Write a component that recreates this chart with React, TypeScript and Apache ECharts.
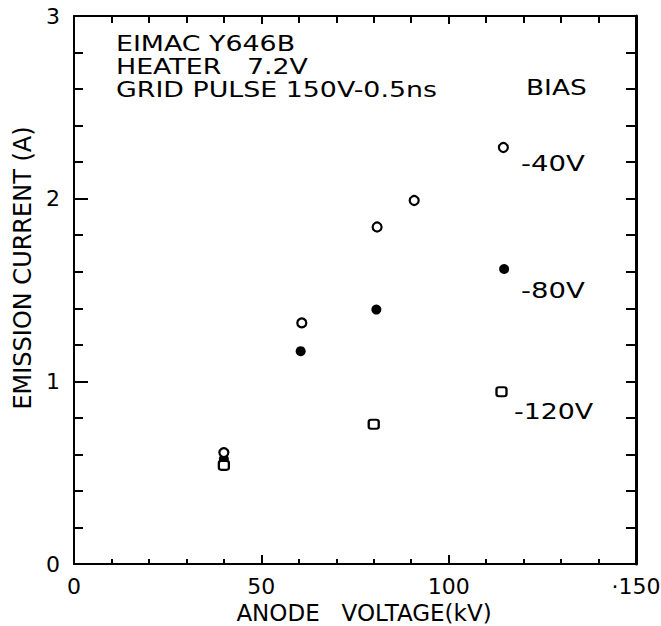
import React, { useEffect, useRef } from "react";
import * as echarts from "echarts";

const xTicks = [0, 50, 100, 150];
const xTickLabels = ["0", "50", "100", "·150"];
const yTickLabels = ["0", "1", "2", "3"];

const bias40: [number, number][] = [
  [40, 0.61],
  [60.8, 1.32],
  [80.9, 1.845],
  [90.8, 1.99],
  [114.6, 2.28],
];
const bias80: [number, number][] = [
  [40, 0.575],
  [60.5, 1.165],
  [80.7, 1.393],
  [114.8, 1.615],
];
const bias120: [number, number][] = [
  [40, 0.54],
  [80, 0.765],
  [114.1, 0.943],
];

const infoLines = ["EIMAC Y646B", "HEATER   7.2V", "GRID PULSE 150V-0.5ns"];
const biasTitle = "BIAS";
const biasLabels = ["-40V", "-80V", "-120V"];
const xName = "ANODE   VOLTAGE(kV)";
const yName = "EMISSION CURRENT (A)";

const FONT = "DejaVu Sans";

export default function App() {
  const ref = useRef<HTMLDivElement>(null);
  useEffect(() => {
    if (!ref.current) return;
    const chart = echarts.init(ref.current, null, { renderer: "svg" });
    const tickLine = { color: "#000", width: 2 };
    const axisLine = { show: true, onZero: false, lineStyle: { color: "#000", width: 2 } };
    const labelStyle = { color: "#000", fontFamily: FONT, fontSize: 22 };
    const txt = (text: string, x: number, y: number, sx = 1.22) => ({
      type: "text",
      x,
      y,
      scaleX: sx,
      style: {
        text,
        x: 0,
        y: 0,
        fill: "#000",
        font: `22px "${FONT}"`,
        textAlign: "left",
        textVerticalAlign: "middle",
      },
    });
    chart.setOption({
      animation: false,
      backgroundColor: "#fff",
      grid: {
        left: 74,
        right: 25,
        top: 16,
        bottom: 62,
        containLabel: false,
        outerBoundsMode: "none",
      },
      xAxis: [
        {
          type: "value",
          min: 0,
          max: 150,
          interval: 50,
          position: "bottom",
          axisLine,
          axisTick: { show: true, inside: true, length: 9, lineStyle: tickLine },
          minorTick: { show: true, splitNumber: 5, length: 5, lineStyle: tickLine },
          splitLine: { show: false },
          axisLabel: {
            ...labelStyle,
            margin: 11,
            formatter: (v: number) => xTickLabels[xTicks.indexOf(v)] ?? "",
          },
          name: xName,
          nameLocation: "middle",
          nameGap: 37,
          nameTextStyle: { color: "#000", fontFamily: FONT, fontSize: 23, padding: [0, 0, 0, 18] },
        },
        {
          type: "value",
          min: 0,
          max: 150,
          interval: 50,
          position: "top",
          axisLine,
          axisTick: { show: true, inside: true, length: 8, lineStyle: tickLine },
          minorTick: { show: true, splitNumber: 5, length: 7, lineStyle: tickLine },
          splitLine: { show: false },
          axisLabel: { show: false },
        },
      ],
      yAxis: [
        {
          type: "value",
          min: 0,
          max: 3,
          interval: 1,
          position: "left",
          axisLine,
          axisTick: { show: true, inside: true, length: 14, lineStyle: tickLine },
          minorTick: { show: true, splitNumber: 5, length: 9, lineStyle: tickLine },
          splitLine: { show: false },
          axisLabel: {
            ...labelStyle,
            margin: 14,
            formatter: (v: number) => yTickLabels[v] ?? "",
          },
          name: yName,
          nameLocation: "middle",
          nameGap: 37,
          nameRotate: 90,
          nameTextStyle: { color: "#000", fontFamily: FONT, fontSize: 24, padding: [0, 0, 0, 44] },
        },
        {
          type: "value",
          min: 0,
          max: 3,
          interval: 1,
          position: "right",
          axisLine: { show: true, onZero: false, lineStyle: { color: "#000", width: 3 } },
          axisTick: { show: true, inside: true, length: 10, lineStyle: tickLine },
          minorTick: { show: true, splitNumber: 5, length: 10, lineStyle: tickLine },
          splitLine: { show: false },
          axisLabel: { show: false },
        },
      ],
      series: [
        {
          name: biasLabels[0],
          type: "scatter",
          data: bias40,
          symbol: "circle",
          symbolSize: 9,
          itemStyle: { color: "#fff", borderColor: "#000", borderWidth: 2.2, opacity: 1 },
          z: 3,
        },
        {
          name: biasLabels[1],
          type: "scatter",
          data: bias80,
          symbol: "circle",
          symbolSize: 10,
          itemStyle: { color: "#000", borderColor: "#000", borderWidth: 0, opacity: 1 },
          z: 2,
        },
        {
          name: biasLabels[2],
          type: "scatter",
          data: bias120,
          symbol: "roundRect",
          symbolSize: [10, 9],
          itemStyle: { color: "#fff", borderColor: "#000", borderWidth: 2.2, opacity: 1 },
          z: 4,
        },
      ],
      graphic: [
        ...infoLines.map((t, i) => txt(t, 116, 43.5 + i * 23)),
        txt(biasTitle, 526, 87, 1.2),
        txt(biasLabels[0], 521, 163, 1.25),
        txt(biasLabels[1], 521, 290, 1.25),
        txt(biasLabels[2], 514, 411, 1.22),
      ],
    });
    return () => chart.dispose();
  }, []);
  return <div ref={ref} style={{ width: 661, height: 626, position: "absolute", left: 0, top: 0 }} />;
}
